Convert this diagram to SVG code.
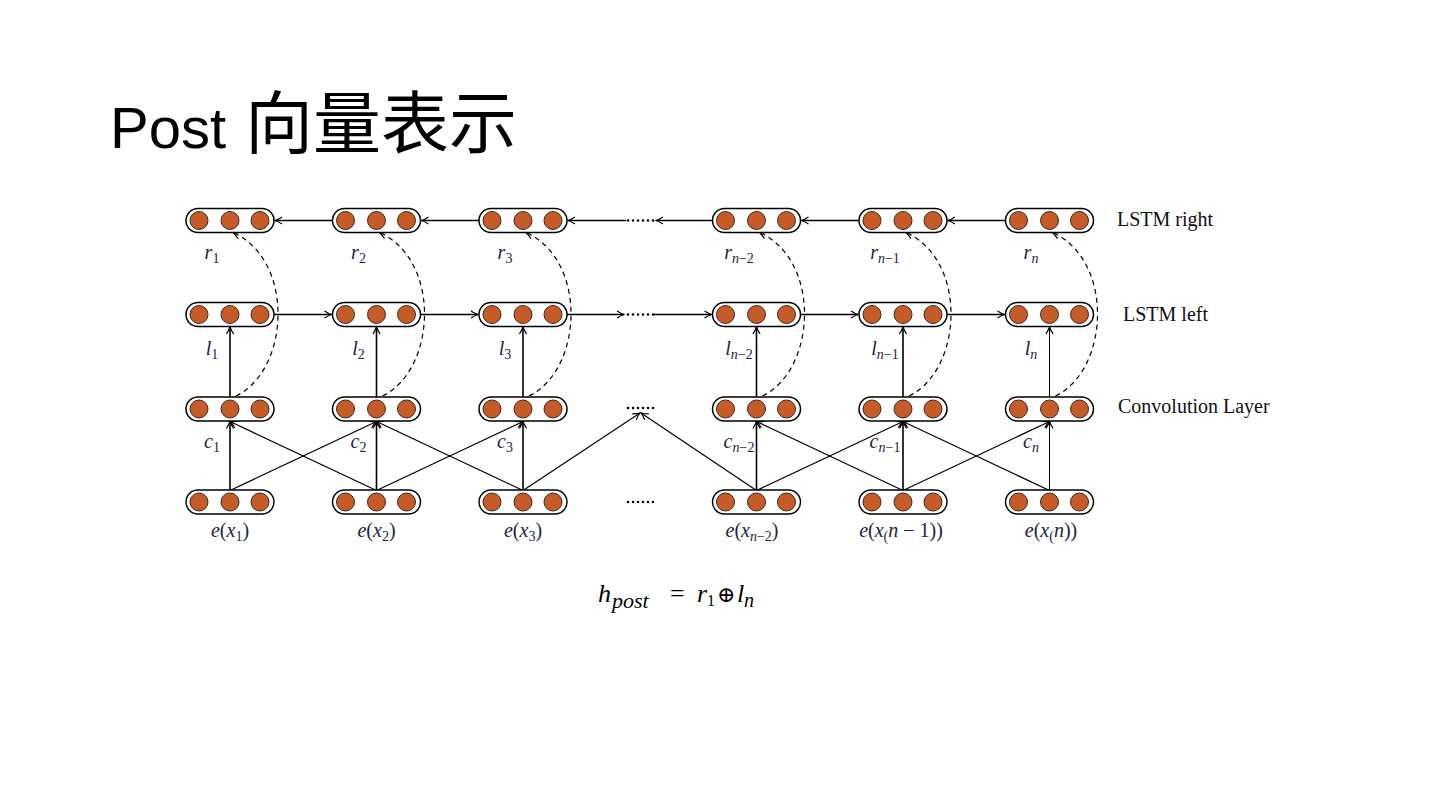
<svg xmlns="http://www.w3.org/2000/svg" xmlns:xlink="http://www.w3.org/1999/xlink" width="1440" height="810" viewBox="0 0 1440 810">
<style>
.ln{stroke:#000;stroke-width:1.6;fill:none}
.dg{stroke:#000;stroke-width:1.2;fill:none}
.th{stroke:#000;stroke-width:1;fill:none}
.ds{stroke:#000;stroke-width:1.2;fill:none;stroke-dasharray:5 4}
.dots{stroke:#000;stroke-width:2.6;stroke-linecap:round;stroke-dasharray:0 5;fill:none}
.lab{font-family:"Liberation Serif","DejaVu Serif",serif;font-style:italic;font-size:20px;fill:#1c2340}
.up{font-style:normal}
.sub{font-size:14px}
.side{font-family:"Liberation Serif","Times New Roman",serif;font-size:20px;fill:#111}
</style>
<defs>
<g id="pill">
<rect x="-44" y="-12" width="88" height="24" rx="12" fill="#fff" stroke="#000" stroke-width="1.5"/>
<circle cx="-31" cy="0" r="9" fill="#c65b28" stroke="#3a2a20" stroke-width="1"/>
<circle cx="0" cy="0" r="9" fill="#c65b28" stroke="#3a2a20" stroke-width="1"/>
<circle cx="30" cy="0" r="9" fill="#c65b28" stroke="#3a2a20" stroke-width="1"/>
</g>
<marker id="ah" viewBox="-9 -5 10 10" refX="0" refY="0" markerWidth="10" markerHeight="10" markerUnits="userSpaceOnUse" orient="auto">
<path d="M -7 -3.6 Q -3 -1 0 0 Q -3 1 -7 3.6" fill="none" stroke="#000" stroke-width="1.2"/>
</marker>
</defs>
<rect width="1440" height="810" fill="#fff"/>
<text x="110" y="148" font-family="'Liberation Sans',Arial,sans-serif" font-size="58" fill="#000">Post<tspan x="245" font-family="'Noto Sans CJK SC','Noto Sans CJK JP',sans-serif" font-size="68">向量表示</tspan></text>

<g id="connectors">
<!-- LSTM right row (leftward) -->
<line class="ln" x1="332.5" y1="220.5" x2="275" y2="220.5" marker-end="url(#ah)"/>
<line class="ln" x1="479" y1="220.5" x2="421.5" y2="220.5" marker-end="url(#ah)"/>
<line class="ln" x1="626" y1="220.5" x2="568" y2="220.5" marker-end="url(#ah)"/>
<line class="dots" x1="628" y1="220.5" x2="654" y2="220.5"/>
<line class="ln" x1="712.5" y1="220.5" x2="656" y2="220.5" marker-end="url(#ah)"/>
<line class="ln" x1="859" y1="220.5" x2="801.5" y2="220.5" marker-end="url(#ah)"/>
<line class="ln" x1="1005.5" y1="220.5" x2="948" y2="220.5" marker-end="url(#ah)"/>
<!-- LSTM left row (rightward) -->
<line class="ln" x1="274" y1="314.5" x2="331.5" y2="314.5" marker-end="url(#ah)"/>
<line class="ln" x1="420.5" y1="314.5" x2="478" y2="314.5" marker-end="url(#ah)"/>
<line class="ln" x1="567" y1="314.5" x2="624" y2="314.5" marker-end="url(#ah)"/>
<line class="dots" x1="628" y1="314.5" x2="654" y2="314.5"/>
<line class="ln" x1="654" y1="314.5" x2="711.5" y2="314.5" marker-end="url(#ah)"/>
<line class="ln" x1="800.5" y1="314.5" x2="858" y2="314.5" marker-end="url(#ah)"/>
<line class="ln" x1="947" y1="314.5" x2="1004.5" y2="314.5" marker-end="url(#ah)"/>
<!-- ellipses in conv and embedding rows -->
<line class="dots" x1="628" y1="408" x2="654" y2="408"/>
<line class="dots" x1="628" y1="502" x2="654" y2="502"/>
<!-- embedding to convolution -->
<line class="ln" x1="230" y1="490.5" x2="230" y2="421.5" marker-end="url(#ah)"/>
<line class="ln" x1="376.5" y1="490.5" x2="376.5" y2="421.5" marker-end="url(#ah)"/>
<line class="ln" x1="523" y1="490.5" x2="523" y2="421.5" marker-end="url(#ah)"/>
<line class="ln" x1="756.5" y1="490.5" x2="756.5" y2="421.5" marker-end="url(#ah)"/>
<line class="ln" x1="903" y1="490.5" x2="903" y2="421.5" marker-end="url(#ah)"/>
<line class="th" x1="1049.5" y1="490.5" x2="1049.5" y2="421.5" marker-end="url(#ah)"/>
<line class="dg" x1="230" y1="490.5" x2="376.5" y2="421.5" marker-end="url(#ah)"/>
<line class="dg" x1="376.5" y1="490.5" x2="230" y2="421.5" marker-end="url(#ah)"/>
<line class="dg" x1="376.5" y1="490.5" x2="523" y2="421.5" marker-end="url(#ah)"/>
<line class="dg" x1="523" y1="490.5" x2="376.5" y2="421.5" marker-end="url(#ah)"/>
<line class="dg" x1="523" y1="490.5" x2="640" y2="413" marker-end="url(#ah)"/>
<line class="dg" x1="756.5" y1="490.5" x2="641" y2="413" marker-end="url(#ah)"/>
<line class="dg" x1="756.5" y1="490.5" x2="903" y2="421.5" marker-end="url(#ah)"/>
<line class="dg" x1="903" y1="490.5" x2="756.5" y2="421.5" marker-end="url(#ah)"/>
<line class="dg" x1="903" y1="490.5" x2="1049.5" y2="421.5" marker-end="url(#ah)"/>
<line class="dg" x1="1049.5" y1="490.5" x2="903" y2="421.5" marker-end="url(#ah)"/>
<!-- convolution to LSTM left -->
<line class="ln" x1="230" y1="397" x2="230" y2="327" marker-end="url(#ah)"/>
<line class="ln" x1="376.5" y1="397" x2="376.5" y2="327" marker-end="url(#ah)"/>
<line class="ln" x1="523" y1="397" x2="523" y2="327" marker-end="url(#ah)"/>
<line class="ln" x1="756.5" y1="397" x2="756.5" y2="327" marker-end="url(#ah)"/>
<line class="ln" x1="903" y1="397" x2="903" y2="327" marker-end="url(#ah)"/>
<line class="th" x1="1049.5" y1="397" x2="1049.5" y2="327" marker-end="url(#ah)"/>
<!-- dashed convolution to LSTM right -->
<path class="ds" d="M 236 396 C 290 370 295 260 233 232.5" marker-end="url(#ah)"/>
<path class="ds" d="M 382.5 396 C 436.5 370 441.5 260 379.5 232.5" marker-end="url(#ah)"/>
<path class="ds" d="M 529 396 C 583 370 588 260 526 232.5" marker-end="url(#ah)"/>
<path class="ds" d="M 762.5 396 C 816.5 370 821.5 260 759.5 232.5" marker-end="url(#ah)"/>
<path class="ds" d="M 909 396 C 963 370 968 260 906 232.5" marker-end="url(#ah)"/>
<path class="ds" d="M 1055.5 396 C 1109.5 370 1114.5 260 1052.5 232.5" marker-end="url(#ah)"/>
</g>

<g id="r1"><use xlink:href="#pill" x="230" y="220.5"/><text class="lab" x="212" y="259" text-anchor="middle">r<tspan class="sub up" dy="4">1</tspan></text></g>
<g id="r2"><use xlink:href="#pill" x="376.5" y="220.5"/><text class="lab" x="358.5" y="259" text-anchor="middle">r<tspan class="sub up" dy="4">2</tspan></text></g>
<g id="r3"><use xlink:href="#pill" x="523" y="220.5"/><text class="lab" x="505" y="259" text-anchor="middle">r<tspan class="sub up" dy="4">3</tspan></text></g>
<g id="rn2"><use xlink:href="#pill" x="756.5" y="220.5"/><text class="lab" x="739" y="259" text-anchor="middle">r<tspan class="sub" dy="4">n</tspan><tspan class="sub up">−2</tspan></text></g>
<g id="rn1"><use xlink:href="#pill" x="903" y="220.5"/><text class="lab" x="885" y="259" text-anchor="middle">r<tspan class="sub" dy="4">n</tspan><tspan class="sub up">−1</tspan></text></g>
<g id="rn"><use xlink:href="#pill" x="1049.5" y="220.5"/><text class="lab" x="1031" y="259" text-anchor="middle">r<tspan class="sub" dy="4">n</tspan></text></g>

<g id="l1"><use xlink:href="#pill" x="230" y="314.5"/><text class="lab" x="212" y="355" text-anchor="middle">l<tspan class="sub up" dy="4">1</tspan></text></g>
<g id="l2"><use xlink:href="#pill" x="376.5" y="314.5"/><text class="lab" x="358.5" y="355" text-anchor="middle">l<tspan class="sub up" dy="4">2</tspan></text></g>
<g id="l3"><use xlink:href="#pill" x="523" y="314.5"/><text class="lab" x="505" y="355" text-anchor="middle">l<tspan class="sub up" dy="4">3</tspan></text></g>
<g id="ln2"><use xlink:href="#pill" x="756.5" y="314.5"/><text class="lab" x="739" y="355" text-anchor="middle">l<tspan class="sub" dy="4">n</tspan><tspan class="sub up">−2</tspan></text></g>
<g id="ln1"><use xlink:href="#pill" x="903" y="314.5"/><text class="lab" x="885" y="355" text-anchor="middle">l<tspan class="sub" dy="4">n</tspan><tspan class="sub up">−1</tspan></text></g>
<g id="lnn"><use xlink:href="#pill" x="1049.5" y="314.5"/><text class="lab" x="1031" y="355" text-anchor="middle">l<tspan class="sub" dy="4">n</tspan></text></g>

<g id="c1"><use xlink:href="#pill" x="230" y="409"/><text class="lab" x="212" y="448" text-anchor="middle">c<tspan class="sub up" dy="4">1</tspan></text></g>
<g id="c2"><use xlink:href="#pill" x="376.5" y="409"/><text class="lab" x="358.5" y="448" text-anchor="middle">c<tspan class="sub up" dy="4">2</tspan></text></g>
<g id="c3"><use xlink:href="#pill" x="523" y="409"/><text class="lab" x="505" y="448" text-anchor="middle">c<tspan class="sub up" dy="4">3</tspan></text></g>
<g id="cn2"><use xlink:href="#pill" x="756.5" y="409"/><text class="lab" x="739" y="448" text-anchor="middle">c<tspan class="sub" dy="4">n</tspan><tspan class="sub up">−2</tspan></text></g>
<g id="cn1"><use xlink:href="#pill" x="903" y="409"/><text class="lab" x="885" y="448" text-anchor="middle">c<tspan class="sub" dy="4">n</tspan><tspan class="sub up">−1</tspan></text></g>
<g id="cn"><use xlink:href="#pill" x="1049.5" y="409"/><text class="lab" x="1031" y="448" text-anchor="middle">c<tspan class="sub" dy="4">n</tspan></text></g>

<g id="e1"><use xlink:href="#pill" x="230" y="502"/><text class="lab" x="230" y="537" text-anchor="middle">e<tspan class="up">(</tspan>x<tspan class="sub up" dy="4">1</tspan><tspan class="up" dy="-4">)</tspan></text></g>
<g id="e2"><use xlink:href="#pill" x="376.5" y="502"/><text class="lab" x="376.5" y="537" text-anchor="middle">e<tspan class="up">(</tspan>x<tspan class="sub up" dy="4">2</tspan><tspan class="up" dy="-4">)</tspan></text></g>
<g id="e3"><use xlink:href="#pill" x="523" y="502"/><text class="lab" x="523" y="537" text-anchor="middle">e<tspan class="up">(</tspan>x<tspan class="sub up" dy="4">3</tspan><tspan class="up" dy="-4">)</tspan></text></g>
<g id="en2"><use xlink:href="#pill" x="756.5" y="502"/><text class="lab" x="752" y="537" text-anchor="middle">e<tspan class="up">(</tspan>x<tspan class="sub" dy="4">n</tspan><tspan class="sub up">−2</tspan><tspan class="up" dy="-4">)</tspan></text></g>
<g id="en1"><use xlink:href="#pill" x="903" y="502"/><text class="lab" x="901" y="537" text-anchor="middle">e<tspan class="up">(</tspan>x<tspan class="sub up" dy="4">(</tspan><tspan dy="-4">n</tspan><tspan class="up"> − 1))</tspan></text></g>
<g id="en"><use xlink:href="#pill" x="1049.5" y="502"/><text class="lab" x="1051" y="537" text-anchor="middle">e<tspan class="up">(</tspan>x<tspan class="sub up" dy="4">(</tspan><tspan dy="-4">n</tspan><tspan class="up">))</tspan></text></g>

<text class="side" x="1117" y="226">LSTM right</text>
<text class="side" x="1123" y="321">LSTM left</text>
<text class="side" x="1118" y="413">Convolution Layer</text>

<text font-family="'Liberation Serif','DejaVu Serif',serif" font-style="italic" font-size="26" fill="#000" y="602"><tspan x="598">h</tspan><tspan x="612" dy="6" font-size="22">post</tspan><tspan x="670" dy="-6" font-style="normal">=</tspan><tspan x="697">r</tspan><tspan x="707" dy="4" font-size="16" font-style="normal">1</tspan><tspan x="717" dy="-4" font-style="normal" font-family="'DejaVu Serif',serif" font-size="22">⊕</tspan><tspan x="737">l</tspan><tspan x="744" dy="5" font-size="20">n</tspan></text>
</svg>
